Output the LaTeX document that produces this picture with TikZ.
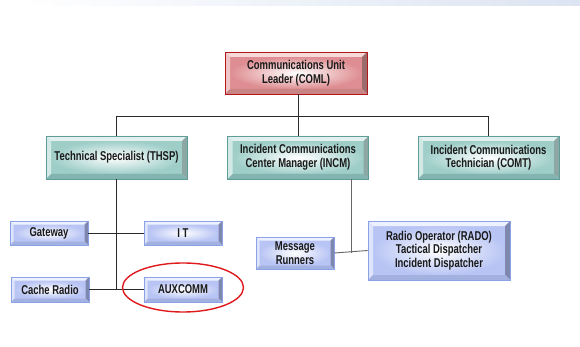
\documentclass[tikz,border=0pt]{standalone}
\usepackage{fontspec}
\newfontfamily\nodefont[FakeStretch=0.74]{Liberation Sans}
\usetikzlibrary{calc}
\definecolor{tealB}{HTML}{5F9E98}
\definecolor{tealL}{HTML}{E2F1EF}
\definecolor{tealLL}{HTML}{D3E9E6}
\definecolor{tealR}{HTML}{8CA7A4}
\definecolor{tealD}{HTML}{84B4AF}
\definecolor{tealF}{HTML}{9FCEC9}
\definecolor{blueB}{HTML}{8AA2E6}
\definecolor{blueL}{HTML}{EEF1FF}
\definecolor{blueLL}{HTML}{DDE4FB}
\definecolor{blueR}{HTML}{7E88AE}
\definecolor{blueD}{HTML}{A3B1E0}
\definecolor{blueF}{HTML}{B8C4F4}
\definecolor{redB}{HTML}{B3161C}
\definecolor{redL}{HTML}{F6DADA}
\definecolor{redLL}{HTML}{EEC6C6}
\definecolor{redR}{HTML}{9C6B6B}
\definecolor{redD}{HTML}{C98585}
\definecolor{redF}{HTML}{DE8E92}
\definecolor{barR}{HTML}{DCE4F2}
\definecolor{lineC}{HTML}{2A2A2A}
\definecolor{ovalC}{HTML}{E0191D}
\tikzset{
  bev/.style={draw=bvB, line width=0.8pt, inner sep=0pt, align=center,
    font=\nodefont\bfseries\fontsize{12.8}{13.6}\selectfont, text=black!90,
    path picture={
      \fill[bvF!55] (path picture bounding box.south west) rectangle (path picture bounding box.north east);
      \shade[inner color=white, outer color=bvF]
        ([shift={(\bvd,-\bvd)}]path picture bounding box.north west) rectangle
        ([shift={(-\bvd,\bvd)}]path picture bounding box.south east);
      \fill[bvL] (path picture bounding box.north west) -- (path picture bounding box.north east)
        -- ([shift={(-\bvd,-\bvd)}]path picture bounding box.north east)
        -- ([shift={(\bvd,-\bvd)}]path picture bounding box.north west) -- cycle;
      \fill[bvLL] (path picture bounding box.north west) -- ([shift={(\bvd,-\bvd)}]path picture bounding box.north west)
        -- ([shift={(\bvd,\bvd)}]path picture bounding box.south west)
        -- (path picture bounding box.south west) -- cycle;
      \fill[bvR] (path picture bounding box.north east) -- (path picture bounding box.south east)
        -- ([shift={(-\bvd,\bvd)}]path picture bounding box.south east)
        -- ([shift={(-\bvd,-\bvd)}]path picture bounding box.north east) -- cycle;
      \fill[bvD] (path picture bounding box.south west) -- (path picture bounding box.south east)
        -- ([shift={(-\bvd,\bvd)}]path picture bounding box.south east)
        -- ([shift={(\bvd,\bvd)}]path picture bounding box.south west) -- cycle;
    }},
  tealbox/.style={bev, /utils/exec={\colorlet{bvB}{tealB}\colorlet{bvL}{tealL}\colorlet{bvLL}{tealLL}\colorlet{bvR}{tealR}\colorlet{bvD}{tealD}\colorlet{bvF}{tealF}\def\bvd{5pt}},
    minimum width=141pt, minimum height=43pt},
  bluebox/.style={bev, /utils/exec={\colorlet{bvB}{blueB}\colorlet{bvL}{blueL}\colorlet{bvLL}{blueLL}\colorlet{bvR}{blueR}\colorlet{bvD}{blueD}\colorlet{bvF}{blueF}\def\bvd{3.5pt}},
    minimum width=78pt, minimum height=24pt},
  redbox/.style={bev, /utils/exec={\colorlet{bvB}{redB}\colorlet{bvL}{redL}\colorlet{bvLL}{redLL}\colorlet{bvR}{redR}\colorlet{bvD}{redD}\colorlet{bvF}{redF}\def\bvd{5pt}},
    minimum width=142pt, minimum height=42pt},
  conn/.style={draw=lineC, line width=0.9pt},
}
\begin{document}
\begin{tikzpicture}[x=1pt, y=-1pt]
\useasboundingbox (0,0) rectangle (580,347);
\fill[white] (0,0) rectangle (580,347);
\shade[left color=white, right color=barR] (20,0) rectangle (580,6);

\node[redbox] (coml) at (296,73) {Communications Unit\\Leader (COML)};
\node[tealbox] (thsp) at (116.5,157.5) {Technical Specialist (THSP)};
\node[tealbox] (incm) at (298,157.5) {Incident Communications\\Center Manager (INCM)};
\node[tealbox] (comt) at (488.5,157.5) {Incident Communications\\Technician (COMT)};
\node[bluebox] (gw) at (49,233) {Gateway};
\node[bluebox] (it) at (183,233) {I T};
\node[bluebox, minimum height=25pt] (cache) at (50,289.5) {Cache Radio};
\node[bluebox, minimum height=25pt] (aux) at (183,289.5) {AUXCOMM};
\node[bluebox, minimum height=32pt] (msg) at (295,253) {Message\\Runners};
\node[bluebox, minimum width=142pt, minimum height=59pt, /utils/exec={\def\bvd{5pt}}] (rado) at (439,250.5) {Radio Operator (RADO)\\Tactical Dispatcher\\Incident Dispatcher};

\coordinate (busL) at (thsp.north |- 0,116);
\coordinate (busR) at (488.5,116);
\coordinate (busC) at (298,116);
\draw[conn] (busL) -- (busR);
\draw[conn] (coml.south -| busC) -- (busC);
\draw[conn] (busL) -- (thsp.north);
\draw[conn] (busC) -- (incm.north -| busC);
\draw[conn] (busR) -- (comt.north -| busR);

\coordinate (thspEnd) at (116.5,289.5);
\draw[conn] (thsp.south) -- (thspEnd);
\draw[conn] (gw.east) -- (it.west);
\draw[conn] (cache.east) -- (aux.west);

\coordinate (incmEnd) at (351,253);
\draw[conn, draw=black!60] (incm.south -| incmEnd) -- (incmEnd);
\draw[conn, draw=black!60] (msg.east) -- (rado.west);

\draw[ovalC, line width=1.4pt] (183,287.5) ellipse [x radius=60.5pt, y radius=24.5pt];
\end{tikzpicture}
\end{document}
